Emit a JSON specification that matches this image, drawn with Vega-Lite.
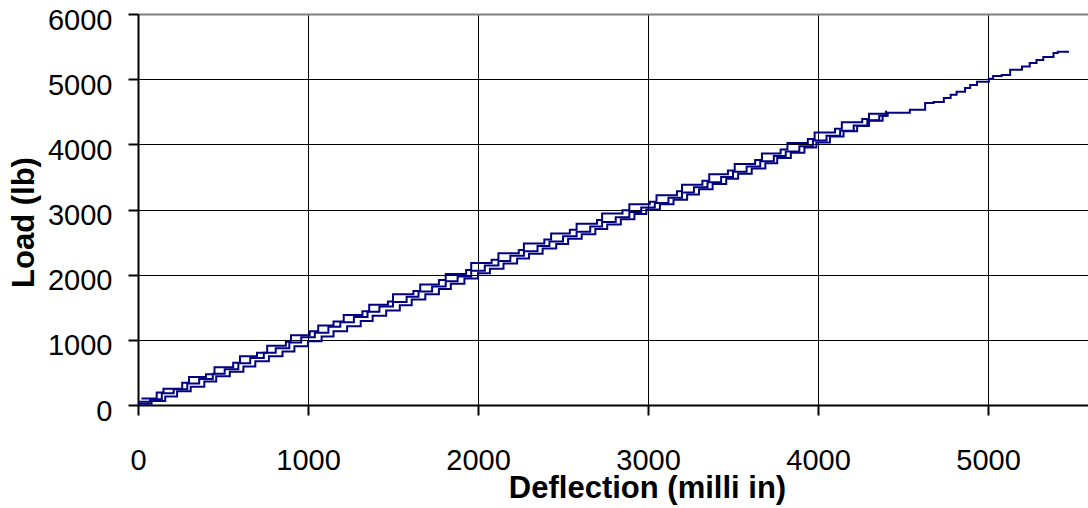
{
  "$schema": "https://vega.github.io/schema/vega-lite/v6.json",
  "width": 950,
  "height": 391,
  "autosize": {"type": "none"},
  "padding": {"left": 138, "top": 14, "right": 0, "bottom": 103},
  "background": "white",
  "view": {"stroke": null},
  "config": {
    "font": "Liberation Sans",
    "axis": {
      "labelFont": "Liberation Sans",
      "labelColor": "#000000",
      "labelFontSize": 29,
      "titleFont": "Liberation Sans",
      "titleColor": "#000000",
      "titleFontWeight": "bold",
      "titleFontSize": 31,
      "domainColor": "#000000",
      "domainWidth": 2,
      "tickColor": "#000000",
      "tickWidth": 2,
      "tickSize": 10,
      "gridColor": "#000000",
      "gridWidth": 1,
      "gridOpacity": 1
    }
  },
  "data": {
    "values": [
      {"run": "A", "d": 0, "l": 50}, {"run": "A", "d": 70, "l": 90}, {"run": "A", "d": 140, "l": 180}, {"run": "A", "d": 210, "l": 240},
      {"run": "A", "d": 290, "l": 330}, {"run": "A", "d": 360, "l": 400}, {"run": "A", "d": 440, "l": 480}, {"run": "A", "d": 510, "l": 550},
      {"run": "A", "d": 590, "l": 640}, {"run": "A", "d": 660, "l": 720}, {"run": "A", "d": 740, "l": 800}, {"run": "A", "d": 810, "l": 870},
      {"run": "A", "d": 890, "l": 960}, {"run": "A", "d": 960, "l": 1040}, {"run": "A", "d": 1040, "l": 1110}, {"run": "A", "d": 1120, "l": 1200},
      {"run": "A", "d": 1190, "l": 1270}, {"run": "A", "d": 1270, "l": 1350}, {"run": "A", "d": 1350, "l": 1430}, {"run": "A", "d": 1420, "l": 1510},
      {"run": "A", "d": 1500, "l": 1580}, {"run": "A", "d": 1580, "l": 1660}, {"run": "A", "d": 1650, "l": 1740}, {"run": "A", "d": 1730, "l": 1820},
      {"run": "A", "d": 1810, "l": 1900}, {"run": "A", "d": 1880, "l": 1970}, {"run": "A", "d": 1960, "l": 2060}, {"run": "A", "d": 2040, "l": 2140},
      {"run": "A", "d": 2120, "l": 2210}, {"run": "A", "d": 2190, "l": 2290}, {"run": "A", "d": 2270, "l": 2360}, {"run": "A", "d": 2350, "l": 2440},
      {"run": "A", "d": 2420, "l": 2510}, {"run": "A", "d": 2500, "l": 2590}, {"run": "A", "d": 2580, "l": 2660}, {"run": "A", "d": 2660, "l": 2740},
      {"run": "A", "d": 2730, "l": 2810}, {"run": "A", "d": 2810, "l": 2880}, {"run": "A", "d": 2890, "l": 2960}, {"run": "A", "d": 2960, "l": 3030},
      {"run": "A", "d": 3040, "l": 3100}, {"run": "A", "d": 3120, "l": 3180}, {"run": "A", "d": 3200, "l": 3260}, {"run": "A", "d": 3270, "l": 3340},
      {"run": "A", "d": 3350, "l": 3420}, {"run": "A", "d": 3430, "l": 3500}, {"run": "A", "d": 3500, "l": 3580}, {"run": "A", "d": 3580, "l": 3660},
      {"run": "A", "d": 3660, "l": 3740}, {"run": "A", "d": 3740, "l": 3820}, {"run": "A", "d": 3810, "l": 3890}, {"run": "A", "d": 3890, "l": 3970},
      {"run": "A", "d": 3970, "l": 4060}, {"run": "A", "d": 4050, "l": 4130}, {"run": "A", "d": 4130, "l": 4210}, {"run": "A", "d": 4210, "l": 4290},
      {"run": "A", "d": 4290, "l": 4370}, {"run": "A", "d": 4360, "l": 4440}, {"run": "A", "d": 4410, "l": 4485}, {"run": "A", "d": 4540, "l": 4530},
      {"run": "A", "d": 4630, "l": 4635}, {"run": "A", "d": 4680, "l": 4650}, {"run": "A", "d": 4740, "l": 4710}, {"run": "A", "d": 4780, "l": 4760},
      {"run": "A", "d": 4815, "l": 4805}, {"run": "A", "d": 4865, "l": 4865}, {"run": "A", "d": 4895, "l": 4910}, {"run": "A", "d": 4935, "l": 4960},
      {"run": "A", "d": 5005, "l": 5005}, {"run": "A", "d": 5030, "l": 5050}, {"run": "A", "d": 5080, "l": 5065}, {"run": "A", "d": 5130, "l": 5145},
      {"run": "A", "d": 5200, "l": 5195}, {"run": "A", "d": 5245, "l": 5250}, {"run": "A", "d": 5285, "l": 5295}, {"run": "A", "d": 5325, "l": 5340},
      {"run": "A", "d": 5385, "l": 5400}, {"run": "A", "d": 5410, "l": 5420}, {"run": "A", "d": 5476, "l": 5420},

      {"run": "B", "d": 20, "l": 100}, {"run": "B", "d": 110, "l": 190}, {"run": "B", "d": 150, "l": 250}, {"run": "B", "d": 260, "l": 340},
      {"run": "B", "d": 300, "l": 430}, {"run": "B", "d": 400, "l": 470}, {"run": "B", "d": 450, "l": 580}, {"run": "B", "d": 560, "l": 650},
      {"run": "B", "d": 600, "l": 750}, {"run": "B", "d": 700, "l": 800}, {"run": "B", "d": 760, "l": 910}, {"run": "B", "d": 870, "l": 970},
      {"run": "B", "d": 900, "l": 1070}, {"run": "B", "d": 1010, "l": 1130}, {"run": "B", "d": 1060, "l": 1220}, {"run": "B", "d": 1150, "l": 1280},
      {"run": "B", "d": 1210, "l": 1380}, {"run": "B", "d": 1320, "l": 1440}, {"run": "B", "d": 1360, "l": 1540}, {"run": "B", "d": 1470, "l": 1590},
      {"run": "B", "d": 1500, "l": 1700}, {"run": "B", "d": 1620, "l": 1750}, {"run": "B", "d": 1660, "l": 1850}, {"run": "B", "d": 1770, "l": 1920},
      {"run": "B", "d": 1810, "l": 2010}, {"run": "B", "d": 1930, "l": 2070}, {"run": "B", "d": 1960, "l": 2180}, {"run": "B", "d": 2080, "l": 2230},
      {"run": "B", "d": 2120, "l": 2330}, {"run": "B", "d": 2240, "l": 2380}, {"run": "B", "d": 2270, "l": 2480}, {"run": "B", "d": 2390, "l": 2540},
      {"run": "B", "d": 2430, "l": 2630}, {"run": "B", "d": 2540, "l": 2690}, {"run": "B", "d": 2580, "l": 2780}, {"run": "B", "d": 2700, "l": 2840},
      {"run": "B", "d": 2730, "l": 2940}, {"run": "B", "d": 2850, "l": 2990}, {"run": "B", "d": 2890, "l": 3080}, {"run": "B", "d": 3010, "l": 3120},
      {"run": "B", "d": 3050, "l": 3220}, {"run": "B", "d": 3170, "l": 3280}, {"run": "B", "d": 3200, "l": 3380}, {"run": "B", "d": 3320, "l": 3440},
      {"run": "B", "d": 3360, "l": 3540}, {"run": "B", "d": 3470, "l": 3600}, {"run": "B", "d": 3510, "l": 3700}, {"run": "B", "d": 3630, "l": 3760},
      {"run": "B", "d": 3670, "l": 3860}, {"run": "B", "d": 3780, "l": 3920}, {"run": "B", "d": 3820, "l": 4020}, {"run": "B", "d": 3940, "l": 4080},
      {"run": "B", "d": 3980, "l": 4180}, {"run": "B", "d": 4100, "l": 4240}, {"run": "B", "d": 4140, "l": 4340}, {"run": "B", "d": 4260, "l": 4390},
      {"run": "B", "d": 4300, "l": 4470}, {"run": "B", "d": 4400, "l": 4515},

      {"run": "C", "d": 0, "l": 20}, {"run": "C", "d": 80, "l": 60}, {"run": "C", "d": 160, "l": 130}, {"run": "C", "d": 230, "l": 210},
      {"run": "C", "d": 310, "l": 280}, {"run": "C", "d": 390, "l": 360}, {"run": "C", "d": 460, "l": 440}, {"run": "C", "d": 540, "l": 510},
      {"run": "C", "d": 620, "l": 590}, {"run": "C", "d": 690, "l": 670}, {"run": "C", "d": 770, "l": 750}, {"run": "C", "d": 850, "l": 820},
      {"run": "C", "d": 920, "l": 900}, {"run": "C", "d": 1000, "l": 980}, {"run": "C", "d": 1080, "l": 1050}, {"run": "C", "d": 1150, "l": 1130},
      {"run": "C", "d": 1230, "l": 1210}, {"run": "C", "d": 1310, "l": 1290}, {"run": "C", "d": 1380, "l": 1370}, {"run": "C", "d": 1460, "l": 1450},
      {"run": "C", "d": 1540, "l": 1530}, {"run": "C", "d": 1610, "l": 1620}, {"run": "C", "d": 1690, "l": 1700}, {"run": "C", "d": 1770, "l": 1780},
      {"run": "C", "d": 1840, "l": 1860}, {"run": "C", "d": 1920, "l": 1940}, {"run": "C", "d": 2000, "l": 2020}, {"run": "C", "d": 2070, "l": 2090},
      {"run": "C", "d": 2150, "l": 2170}, {"run": "C", "d": 2230, "l": 2250}, {"run": "C", "d": 2300, "l": 2320}, {"run": "C", "d": 2380, "l": 2400},
      {"run": "C", "d": 2460, "l": 2470}, {"run": "C", "d": 2530, "l": 2550}, {"run": "C", "d": 2610, "l": 2620}, {"run": "C", "d": 2690, "l": 2700},
      {"run": "C", "d": 2760, "l": 2770}, {"run": "C", "d": 2840, "l": 2850}, {"run": "C", "d": 2920, "l": 2930}, {"run": "C", "d": 2990, "l": 3000},
      {"run": "C", "d": 3070, "l": 3080}, {"run": "C", "d": 3150, "l": 3150}, {"run": "C", "d": 3230, "l": 3230}, {"run": "C", "d": 3300, "l": 3310},
      {"run": "C", "d": 3380, "l": 3390}, {"run": "C", "d": 3460, "l": 3470}, {"run": "C", "d": 3530, "l": 3550}, {"run": "C", "d": 3610, "l": 3630},
      {"run": "C", "d": 3690, "l": 3710}, {"run": "C", "d": 3760, "l": 3790}, {"run": "C", "d": 3840, "l": 3870}, {"run": "C", "d": 3920, "l": 3950},
      {"run": "C", "d": 3990, "l": 4030}, {"run": "C", "d": 4070, "l": 4120}, {"run": "C", "d": 4150, "l": 4200}, {"run": "C", "d": 4230, "l": 4280},
      {"run": "C", "d": 4300, "l": 4360}, {"run": "C", "d": 4380, "l": 4440}, {"run": "C", "d": 4400, "l": 4515}
    ]
  },
  "mark": {"type": "line", "interpolate": "step-after", "color": "#000080", "strokeWidth": 2, "clip": true},
  "encoding": {
    "detail": {"field": "run", "type": "nominal"},
    "x": {
      "field": "d",
      "type": "quantitative",
      "scale": {"domain": [0, 5588], "nice": false, "zero": true},
      "axis": {
        "title": "Deflection (milli in)",
        "values": [0, 1000, 2000, 3000, 4000, 5000],
        "format": "d",
        "grid": true,
        "labelPadding": 31,
        "labelFlush": false,
        "labelOverlap": false,
        "titleX": 509,
        "titleY": 92,
        "titleBaseline": "alphabetic",
        "titleAlign": "center"
      }
    },
    "y": {
      "field": "l",
      "type": "quantitative",
      "scale": {"domain": [0, 6000], "nice": false},
      "axis": {
        "title": "Load (lb)",
        "values": [0, 1000, 2000, 3000, 4000, 5000, 6000],
        "format": "d",
        "grid": true,
        "gridColor": {"condition": {"test": "datum.value === 6000", "value": "#808080"}, "value": "#000000"},
        "gridWidth": {"condition": {"test": "datum.value === 6000", "value": 2}, "value": 1},
        "labelPadding": 16,
        "labelOffset": 6,
        "labelFlush": false,
        "labelOverlap": false,
        "titleX": -105,
        "titleY": 208,
        "titleAngle": 270,
        "titleBaseline": "alphabetic",
        "titleAlign": "center"
      }
    }
  }
}
